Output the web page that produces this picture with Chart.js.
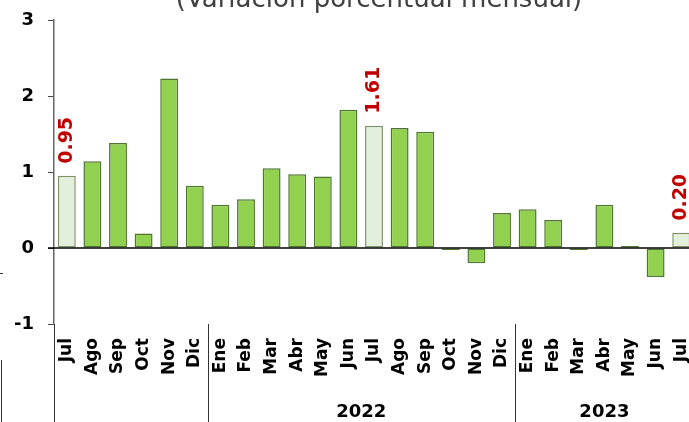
<!DOCTYPE html>
<html lang="es">
<head>
  <meta charset="UTF-8" />
  <title>Variación porcentual mensual</title>
  <script src="https://cdn.jsdelivr.net/npm/chart.js"></script>
  <style>
    html, body { margin: 0; padding: 0; background: #fff; overflow: hidden; }
    #caja { position: relative; width: 694px; height: 422px; }
  </style>
</head>
<body>
  <div id="caja"><canvas id="grafico"></canvas></div>

  <script>
    // datos
    const titulo = '(Variación porcentual mensual)';
    const meses = ['Jul', 'Ago', 'Sep', 'Oct', 'Nov', 'Dic',
      'Ene', 'Feb', 'Mar', 'Abr', 'May', 'Jun', 'Jul', 'Ago', 'Sep', 'Oct', 'Nov', 'Dic',
      'Ene', 'Feb', 'Mar', 'Abr', 'May', 'Jun', 'Jul'];
    const variacion = [0.95, 1.14, 1.38, 0.19, 2.23, 0.82,
      0.57, 0.64, 1.05, 0.97, 0.94, 1.82, 1.61, 1.58, 1.53, -0.02, -0.20, 0.46,
      0.51, 0.37, -0.02, 0.57, 0.01, -0.38, 0.20];
    const destacados = [0, 12, 24];           // julios con etiqueta
    const anios = ['', '2022', '2023'];
    const cortes = [0, 6, 18, 25];            // limites de cada año (indices)
    const yTicks = [-1, 0, 1, 2, 3];

    const verde = '#92D050';
    const verdeBorde = '#4F7630';
    const claro = '#E2EFDA';
    const claroBorde = '#7D9268';
    const rojo = '#C00000';
    const fuente = '"DejaVu Sans", sans-serif';

    const fondos = meses.map((m, i) => destacados.includes(i) ? claro : verde);
    const bordes = meses.map((m, i) => destacados.includes(i) ? claroBorde : verdeBorde);

    const extras = {
      id: 'extras',
      afterDraw(chart) {
        const ctx = chart.ctx;
        const x = chart.scales.x;
        const y = chart.scales.y;
        const area = chart.chartArea;
        const ancho = (x.right - x.left) / meses.length;
        const alto = chart.height;

        ctx.save();
        // titulo (cortado arriba)
        ctx.fillStyle = '#404040';
        ctx.font = '26px ' + fuente;
        ctx.textAlign = 'center';
        ctx.textBaseline = 'alphabetic';
        ctx.fillText(titulo, 379, 7);

        // linea del cero
        ctx.strokeStyle = '#000';
        ctx.lineWidth = 1.5;
        const y0 = y.getPixelForValue(0);
        ctx.beginPath();
        ctx.moveTo(area.left - 6, y0);
        ctx.lineTo(area.right, y0);
        ctx.stroke();

        // separadores de años y etiquetas
        ctx.strokeStyle = '#333';
        ctx.lineWidth = 1;
        cortes.slice(0, -1).forEach(c => {
          const px = Math.round(x.left + c * ancho) + 0.5;
          ctx.beginPath();
          ctx.moveTo(px, area.bottom);
          ctx.lineTo(px, alto);
          ctx.stroke();
        });
        ctx.fillStyle = '#000';
        ctx.font = 'bold 18px ' + fuente;
        ctx.textBaseline = 'middle';
        anios.forEach((a, k) => {
          const cx = x.left + (cortes[k] + cortes[k + 1]) / 2 * ancho;
          ctx.fillText(a, cx, 412);
        });

        // restos a la izquierda
        ctx.beginPath();
        ctx.moveTo(0, 273.5);
        ctx.lineTo(3, 273.5);
        ctx.moveTo(1.5, 360);
        ctx.lineTo(1.5, alto);
        ctx.stroke();

        // etiquetas rojas verticales
        const meta = chart.getDatasetMeta(0);
        ctx.fillStyle = rojo;
        ctx.font = 'bold 19px ' + fuente;
        ctx.textAlign = 'left';
        ctx.textBaseline = 'middle';
        destacados.forEach(i => {
          const barra = meta.data[i];
          ctx.save();
          ctx.translate(barra.x, barra.y - 12);
          ctx.rotate(-Math.PI / 2);
          ctx.fillText(variacion[i].toFixed(2), 0, 0);
          ctx.restore();
        });
        ctx.restore();
      }
    };

    new Chart(document.getElementById('grafico'), {
      type: 'bar',
      data: {
        labels: meses,
        datasets: [{
          data: variacion,
          backgroundColor: fondos,
          borderColor: bordes,
          borderWidth: 1.5,
          borderSkipped: false,
          minBarLength: 2,
          barPercentage: 0.7,
          categoryPercentage: 1.0
        }]
      },
      options: {
        responsive: true,
        maintainAspectRatio: false,
        animation: false,
        layout: { padding: { top: 20, left: 0, right: 0, bottom: 0 } },
        plugins: {
          legend: { display: false },
          tooltip: { enabled: false }
        },
        scales: {
          x: {
            grid: { display: false, drawTicks: false },
            border: { display: false },
            ticks: {
              autoSkip: false,
              maxRotation: 90,
              minRotation: 90,
              padding: 14,
              color: '#000',
              font: { family: fuente, size: 17, weight: 'bold' }
            },
            afterFit(scale) {
              scale.height = 98;
              scale.paddingLeft = 0;
              scale.paddingRight = 0;
            }
          },
          y: {
            min: -1,
            max: 3,
            afterBuildTicks(scale) { scale.ticks = yTicks.map(v => ({ value: v })); },
            grid: { drawOnChartArea: false, tickLength: 6, tickColor: '#444' },
            border: { display: true, color: '#666', width: 1.5 },
            ticks: {
              padding: 14,
              color: '#000',
              font: { family: fuente, size: 18, weight: 'bold' }
            },
            afterFit(scale) {
              scale.width = 54;
              scale.paddingTop = 0;
              scale.paddingBottom = 0;
            }
          }
        }
      },
      plugins: [extras]
    });
  </script>
</body>
</html>
